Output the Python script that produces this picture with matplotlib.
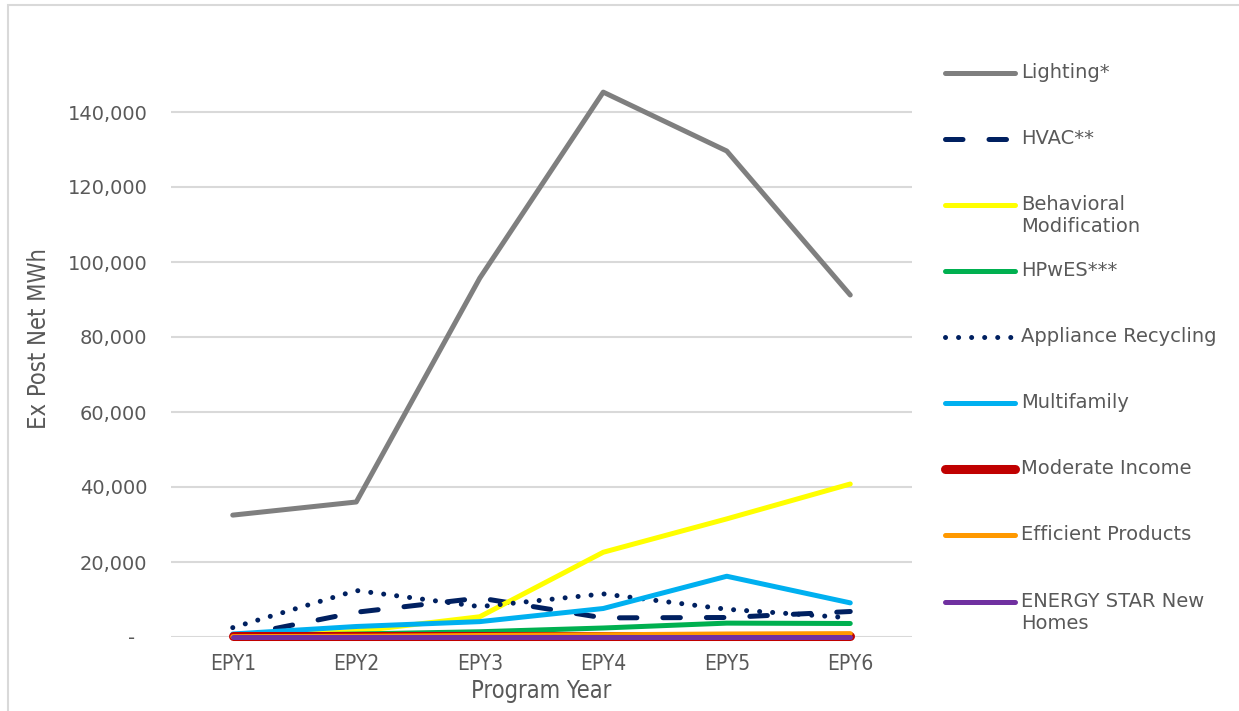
import matplotlib
matplotlib.use("Agg")
import matplotlib.pyplot as plt
from matplotlib.lines import Line2D
from matplotlib.patches import Rectangle
from matplotlib.ticker import FuncFormatter
from matplotlib import font_manager

# Ex post net MWh by residential program, EPY1-EPY6
years = ["EPY1", "EPY2", "EPY3", "EPY4", "EPY5", "EPY6"]

lighting = [32500, 36000, 95700, 145300, 129600, 91200]
hvac = [0, 6600, 10400, 5100, 5200, 6800]
behavioral = [0, 1500, 5400, 22600, 31500, 40800]
hpwes = [300, 800, 1400, 2400, 3700, 3600]
appliance = [2500, 12400, 8100, 11500, 7400, 5100]
multifamily = [800, 2800, 4100, 7600, 16200, 9100]
moderate_income = [300, 300, 300, 300, 300, 300]
efficient_products = [100, 200, 400, 600, 800, 900]
energy_star = [0, 0, 0, 0, 0, 0]

labels = ["Lighting*", "HVAC**", "Behavioral\nModification", "HPwES***",
          "Appliance Recycling", "Multifamily", "Moderate Income",
          "Efficient Products", "ENERGY STAR New\nHomes"]
series = [lighting, hvac, behavioral, hpwes, appliance, multifamily,
          moderate_income, efficient_products, energy_star]
colors = ["#7f7f7f", "#002060", "#ffff00", "#00b050", "#002060",
          "#00b0f0", "#c00000", "#ff9900", "#7030a0"]
widths = [3.6, 3.6, 3.6, 3.6, 3.6, 3.6, 6.5, 3.6, 3.6]
styles = ["solid", (0, (3.5, 5.2)), "solid", "solid", (0, (0.01, 2.6)),
          "solid", "solid", "solid", "solid"]

text_gray = "#595959"
grid_gray = "#d9d9d9"

# condensed face for axis titles and category labels, if one is installed
names = {f.name for f in font_manager.fontManager.ttflist}
narrow = dict(family="DejaVu Sans")
for cand in ["Liberation Sans Narrow", "DejaVu Sans Condensed"]:
    if cand in names:
        narrow = dict(family=cand)
        break
else:
    narrow["stretch"] = "condensed"

fig = plt.figure(figsize=(12.39, 7.11), dpi=100)
ax = fig.add_axes([171 / 1239, 74 / 711, 741 / 1239, 597 / 711])

x = list(range(len(years)))
for vals, c, lw, ls in zip(series, colors, widths, styles):
    ax.plot(x, vals, color=c, lw=lw, linestyle=ls,
            solid_capstyle="round", dash_capstyle="round", clip_on=False)

ax.set_xlim(-0.5, len(years) - 0.5)
ax.set_ylim(0, 159200)
ax.set_yticks(range(0, 140001, 20000))
ax.yaxis.set_major_formatter(FuncFormatter(lambda v, p: "-  " if v == 0 else f"{v:,.0f}"))
ax.set_xticks(x)
ax.set_xticklabels(years, fontsize=15, color=text_gray, **narrow)
for t in ax.get_yticklabels():
    t.set_fontsize(14)
    t.set_color(text_gray)
ax.tick_params(axis="both", length=0)
ax.tick_params(axis="y", pad=17)
ax.tick_params(axis="x", pad=12)

ax.grid(axis="y", color=grid_gray, lw=1.5)
ax.set_axisbelow(True)
for s in ax.spines.values():
    s.set_visible(False)

ax.set_xlabel("Program Year", fontsize=17, color=text_gray, labelpad=4, **narrow)
ax.set_ylabel("Ex Post Net MWh", fontsize=17, color=text_gray, labelpad=12, **narrow)

# legend drawn by hand so the two-line entries keep the same row spacing
row_y = [73, 139, 205, 271, 337, 403, 469, 535, 602]
for lab, c, lw, ls, yy in zip(labels, colors, widths, styles, row_y):
    fy = 1 - yy / 711
    fig.add_artist(Line2D([945 / 1239, 1015 / 1239], [fy, fy], color=c, lw=lw,
                          linestyle=ls, solid_capstyle="round",
                          dash_capstyle="round"))
    fig.text(1021 / 1239, fy + 10 / 711, lab, fontsize=14, color=text_gray,
             va="top", ha="left", linespacing=1.2)

# chart area border
fig.add_artist(Rectangle((8 / 1239, -0.01), 1.0, 1 - 5 / 711 + 0.01,
                         transform=fig.transFigure, fill=False,
                         edgecolor=grid_gray, lw=1.5))

fig.savefig("out.png", dpi=100)
